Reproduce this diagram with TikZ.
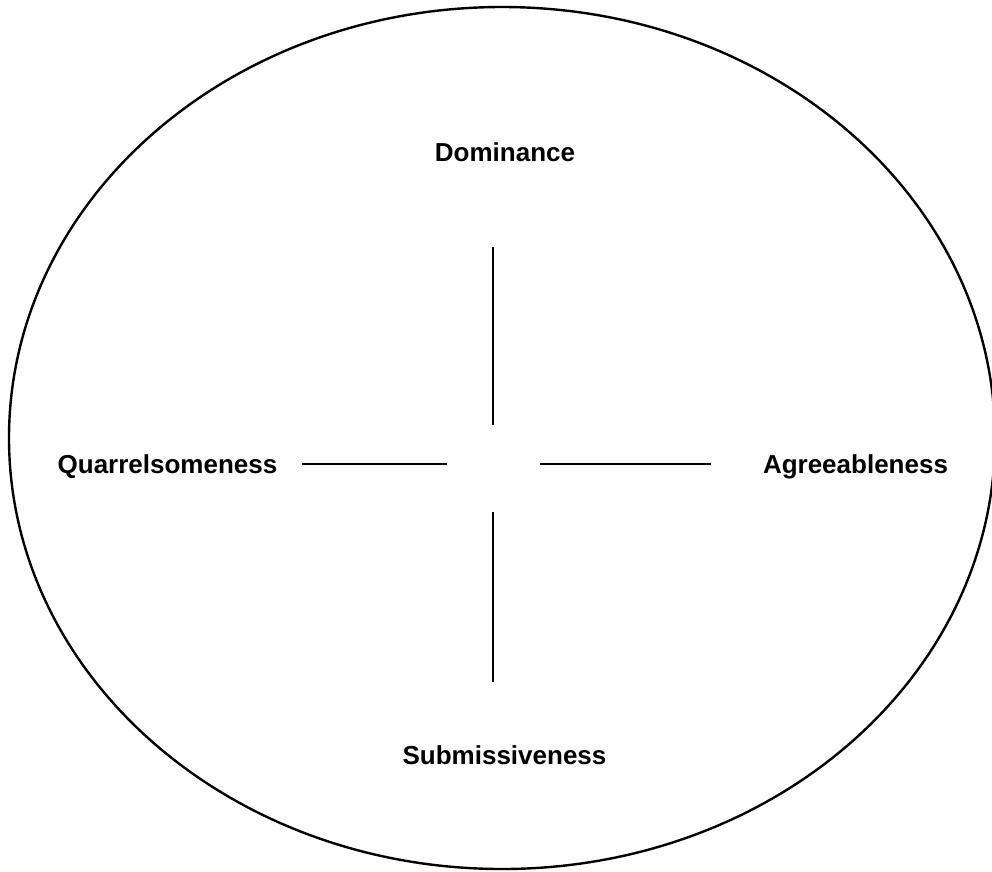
\documentclass[tikz,border=0pt]{standalone}
\usepackage{fontspec}
\setmainfont{Liberation Sans}
\usetikzlibrary{positioning}
\tikzset{axislabel/.style={font=\fontsize{26}{30}\selectfont\bfseries, anchor=base, inner sep=0pt}}

\begin{document}
\begin{tikzpicture}[x=1pt, y=-1pt, line width=2.4pt]
        \useasboundingbox (0,0) rectangle (992,871);
        \draw (502,438) ellipse [x radius=493, y radius=431];
        % labels
        \node[axislabel] (dom) at (505,161) {Dominance};
        \node[axislabel] (sub) at (504.5,764) {Submissiveness};
        \node[axislabel] (qua) at (167.5,473) {Quarrelsomeness};
        \node[axislabel] (agr) at (855.5,473) {Agreeableness};
        % cross arms
        \coordinate (up1) at (493,247);  \coordinate (up2) at (493,425);
        \coordinate (dn1) at (493,512);  \coordinate (dn2) at (493,682);
        \coordinate (lt1) at (302,464);  \coordinate (lt2) at (447,464);
        \coordinate (rt1) at (540,464);  \coordinate (rt2) at (711,464);
        \draw (up1) -- (up2);
        \draw (dn1) -- (dn2);
        \draw (lt1) -- (lt2);
        \draw (rt1) -- (rt2);
      \end{tikzpicture}
\end{document}
